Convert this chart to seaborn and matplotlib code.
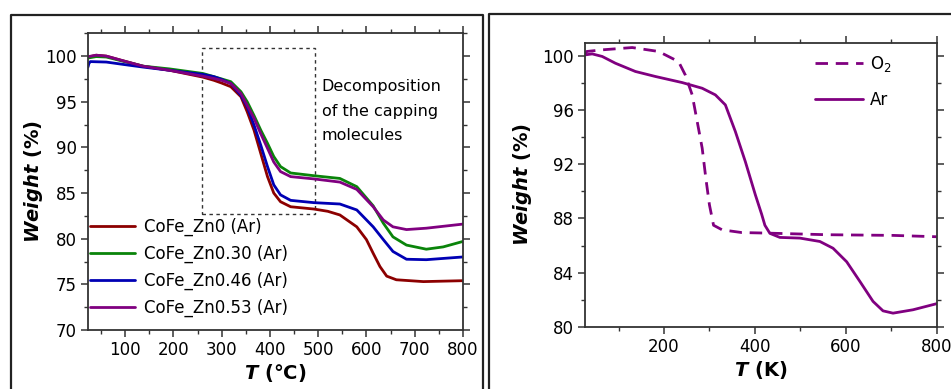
import matplotlib
matplotlib.use("Agg")
import matplotlib.pyplot as plt
from matplotlib.lines import Line2D
from matplotlib.patches import Rectangle
from matplotlib.ticker import MultipleLocator
import pandas as pd
import seaborn as sns

# ---- TGA curves under Ar, temperature in degC ----
t_zn0 = [24, 40, 61, 95, 137, 192, 261, 284, 300, 319, 340, 353, 367, 381, 395, 408,
         422, 443, 491, 520, 545, 580, 600, 614, 628, 642, 662, 718, 800]
w_zn0 = [99.9, 100.1, 100.0, 99.5, 98.9, 98.45, 97.7, 97.35, 97.05, 96.65, 95.55, 93.9,
         91.9, 89.35, 86.8, 85.0, 84.05, 83.5, 83.25, 83.0, 82.6, 81.3, 79.9, 78.4,
         76.95, 75.9, 75.5, 75.3, 75.4]

t_zn030 = [24, 40, 61, 95, 137, 192, 261, 284, 300, 319, 340, 353, 367, 381, 395, 408,
           422, 443, 491, 545, 580, 614, 635, 655, 683, 724, 759, 800]
w_zn030 = [99.8, 99.95, 99.9, 99.45, 98.9, 98.6, 98.1, 97.75, 97.5, 97.2, 96.1, 95.0,
           93.5, 91.9, 90.45, 89.0, 87.9, 87.2, 86.9, 86.6, 85.7, 83.6, 81.7, 80.2,
           79.3, 78.85, 79.1, 79.7]

t_zn046 = [23, 25, 28, 61, 95, 137, 192, 261, 284, 300, 319, 340, 353, 367, 381, 395,
           408, 422, 443, 491, 545, 580, 614, 635, 655, 683, 724, 800]
w_zn046 = [98.8, 99.2, 99.4, 99.35, 99.1, 98.8, 98.45, 98.0, 97.75, 97.45, 97.0, 95.7,
           94.45, 92.45, 90.25, 87.9, 85.9, 84.8, 84.2, 83.95, 83.8, 83.15, 81.3, 79.9,
           78.6, 77.75, 77.7, 78.0]

t_zn053 = [24, 40, 61, 95, 137, 192, 261, 284, 300, 319, 340, 353, 367, 381, 395, 408,
           422, 443, 491, 545, 580, 614, 635, 655, 683, 724, 800]
w_zn053 = [99.95, 100.1, 100.0, 99.5, 98.9, 98.45, 97.8, 97.55, 97.35, 97.0, 95.9, 94.6,
           93.2, 91.5, 89.9, 88.4, 87.35, 86.8, 86.55, 86.2, 85.4, 83.5, 82.05, 81.3,
           81.0, 81.15, 81.6]

sample_labels = ["CoFe_Zn0 (Ar)", "CoFe_Zn0.30 (Ar)", "CoFe_Zn0.46 (Ar)", "CoFe_Zn0.53 (Ar)"]
sample_colors = ["#8c0000", "#0a840a", "#0000b4", "#800080"]

# ---- CoFe_Zn0.53 in O2 vs Ar ----
t_o2 = [26, 30, 64, 130, 188, 232, 247, 262, 273, 284, 292, 300, 309, 328, 371, 426,
        558, 704, 800]
w_o2 = [100.1, 100.35, 100.47, 100.64, 100.35, 99.6, 98.6, 97.14, 95.17, 93.2, 90.98,
        89.0, 87.5, 87.16, 86.96, 86.92, 86.8, 86.75, 86.65]

t_ar = [27, 42, 64, 93, 137, 181, 240, 284, 313, 335, 357, 379, 401, 415, 422, 433,
        455, 499, 543, 572, 602, 631, 660, 682, 704, 748, 800]
w_ar = [100.1, 100.17, 99.98, 99.48, 98.87, 98.5, 98.05, 97.63, 97.14, 96.4, 94.43,
        92.2, 89.75, 88.3, 87.5, 86.9, 86.6, 86.55, 86.3, 85.8, 84.8, 83.35, 81.87,
        81.17, 81.0, 81.25, 81.7]

atm_labels = ["O$_2$", "Ar"]
atm_color = "#800080"

sns.set_style("ticks")
plt.rcParams["font.family"] = ["DejaVu Sans"]
plt.rcParams["mathtext.fontset"] = "dejavusans"
plt.rcParams["text.color"] = "black"
plt.rcParams["axes.labelcolor"] = "black"

fig = plt.figure(figsize=(9.51, 3.89), dpi=100)
axL = fig.add_axes([0.0925, 0.1517, 0.3943, 0.7627])
axR = fig.add_axes([0.6151, 0.1602, 0.3698, 0.7301])

# panel frames
frame_kw = dict(color="#222222", lw=1.6, transform=fig.transFigure, clip_on=False)
fig.add_artist(Line2D([0.0113, 0.0113, 0.5079, 0.5079], [-0.1, 0.9614, 0.9614, -0.1], **frame_kw))
fig.add_artist(Line2D([0.5147, 0.5147, 1.1], [-0.1, 0.964, 0.964], **frame_kw))

# left panel
series = [(t_zn0, w_zn0), (t_zn030, w_zn030), (t_zn046, w_zn046), (t_zn053, w_zn053)]
for (t, w), lab, col in zip(series, sample_labels, sample_colors):
    df = pd.DataFrame({"T": t, "W": w})
    sns.lineplot(data=df, x="T", y="W", ax=axL, color=col, lw=2.0, label=lab,
                 sort=False, estimator=None)

axL.add_patch(Rectangle((260, 82.7), 233, 18.2, fill=False, ls=(0, (2.5, 2.5)),
                        lw=1.0, ec="#333333"))
axL.text(507, 97.5, "Decomposition\nof the capping\nmolecules", fontsize=11.5,
         va="top", ha="left", linespacing=1.8, color="black")

axL.set_xlim(23, 800)
axL.set_ylim(70, 102.5)
axL.xaxis.set_major_locator(MultipleLocator(100))
axL.xaxis.set_minor_locator(MultipleLocator(50))
axL.yaxis.set_major_locator(MultipleLocator(5))
axL.yaxis.set_minor_locator(MultipleLocator(2.5))
axL.set_xlabel(r"$\mathbfit{T}$ (°C)", fontsize=14, fontweight="bold", labelpad=2)
axL.set_ylabel(r"$\mathbfit{Weight}$ (%)", fontsize=14, fontweight="bold", labelpad=0)
axL.legend(loc="lower left", bbox_to_anchor=(0.0, 0.037), frameon=False, fontsize=12,
           handlelength=2.75, handletextpad=0.5, labelspacing=0.53, borderpad=0.1,
           borderaxespad=0.0)

# right panel
df_o2 = pd.DataFrame({"T": t_o2, "W": w_o2})
df_ar = pd.DataFrame({"T": t_ar, "W": w_ar})
sns.lineplot(data=df_o2, x="T", y="W", ax=axR, color=atm_color, lw=2.0, label=atm_labels[0],
             sort=False, estimator=None, linestyle=(0, (4.5, 2.8)))
sns.lineplot(data=df_ar, x="T", y="W", ax=axR, color=atm_color, lw=2.0, label=atm_labels[1],
             sort=False, estimator=None)
axR.set_xlim(26, 800)
axR.set_ylim(80, 101)
axR.xaxis.set_major_locator(MultipleLocator(200))
axR.xaxis.set_minor_locator(MultipleLocator(100))
axR.yaxis.set_major_locator(MultipleLocator(4))
axR.yaxis.set_minor_locator(MultipleLocator(2))
axR.set_xlabel(r"$\mathbfit{T}$ (K)", fontsize=14, fontweight="bold", labelpad=2)
axR.set_ylabel(r"$\mathbfit{Weight}$ (%)", fontsize=14, fontweight="bold", labelpad=6)
axR.legend(loc="upper left", bbox_to_anchor=(0.648, 0.967), frameon=False, fontsize=12,
           handlelength=2.9, handletextpad=0.4, labelspacing=1.04, borderpad=0.1,
           borderaxespad=0.0)

for ax in (axL, axR):
    for sp in ax.spines.values():
        sp.set_visible(True)
        sp.set_color("#333333")
        sp.set_linewidth(1.3)
    ax.tick_params(which="both", direction="out", top=True, right=True,
                   labeltop=False, labelright=False, colors="#333333", labelcolor="black",
                   labelsize=12)
    ax.tick_params(which="major", length=5, width=1.1, pad=3)
    ax.tick_params(which="minor", length=3, width=1.0)

fig.savefig("out.png", dpi=100, facecolor="white")
